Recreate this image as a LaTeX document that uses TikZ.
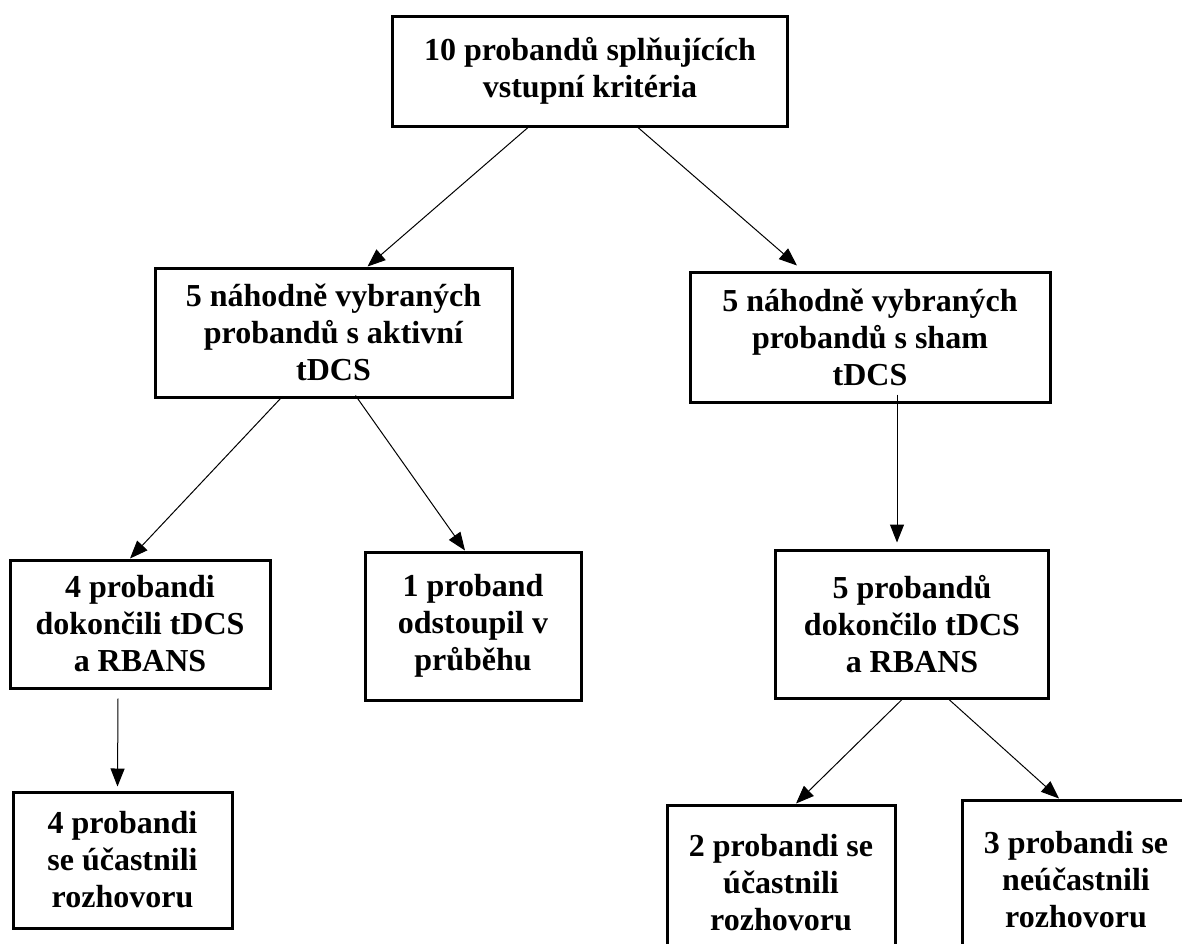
\documentclass[tikz,border=0pt]{standalone}
\usepackage{fontspec}
\setmainfont{Liberation Serif}
\usetikzlibrary{arrows.meta, positioning}
\tikzset{
  box/.style={
    rectangle, draw, line width=3pt,
    minimum width=#1, align=center,
    inner sep=4pt, font=\bfseries\fontsize{32}{37}\selectfont
  },
  box/.default=3cm,
  arr/.style={-{Triangle[length=18pt, width=14pt]}, line width=1pt},
}
\begin{document}
\begin{tikzpicture}[x=1pt, y=-1pt]
\useasboundingbox (0,0) rectangle (1182,943);

% Top box
\node[box=395pt, minimum height=110pt] at (590,71) (start) {10 probandů splňujících\\vstupní kritéria};

% Randomised groups
\node[box=357pt, minimum height=129pt] at (333.5,332.5) (aktiv) {5 náhodně vybraných\\probandů s aktivní\\tDCS};
\node[box=360pt, minimum height=130pt] at (870,337) (sham) {5 náhodně vybraných\\probandů s sham\\tDCS};

% After stimulation
\node[box=260pt, minimum height=128pt] at (140,624) (dokA) {4 probandi\\dokončili tDCS\\a RBANS};
\node[box=216pt, minimum height=148pt] at (473,626) (odst) {1 proband\\odstoupil v\\průběhu};
\node[box=273pt, minimum height=148pt] at (912,624) (dokB) {5 probandů\\dokončilo tDCS\\a RBANS};

% Interviews (bottom row, cut by the page edge)
\node[box=219pt, minimum height=136pt] at (122.5,860) (rozA) {4 probandi\\se účastnili\\rozhovoru};
\node[box=228pt, minimum height=156pt] at (781,883) (rozB) {2 probandi se\\účastnili\\rozhovoru};
\node[box=228pt, minimum height=160pt] at (1076,880) (rozC) {3 probandi se\\neúčastnili\\rozhovoru};

% Arrows
\draw[arr] ([xshift=-62pt]start.south) -- ([xshift=34pt]aktiv.north);
\draw[arr] ([xshift=48pt]start.south) -- ([xshift=-73pt,yshift=5pt]sham.north);
\draw[arr] ([xshift=-53pt]aktiv.south) -- ([xshift=-10pt]dokA.north);
\draw[arr] ([xshift=22pt,yshift=3pt]aktiv.south) -- ([xshift=-8pt]odst.north);
\draw[arr] ([xshift=27pt,yshift=9pt]sham.south) -- ([xshift=-15pt,yshift=6pt]dokB.north);
\draw[arr] ([xshift=-22pt,yshift=-9pt]dokA.south) -- ([xshift=-5pt,yshift=4pt]rozA.north);
\draw[arr] ([xshift=-10pt]dokB.south) -- ([xshift=15pt]rozB.north);
\draw[arr] ([xshift=37pt]dokB.south) -- ([xshift=-17pt]rozC.north);

\end{tikzpicture}
\end{document}
